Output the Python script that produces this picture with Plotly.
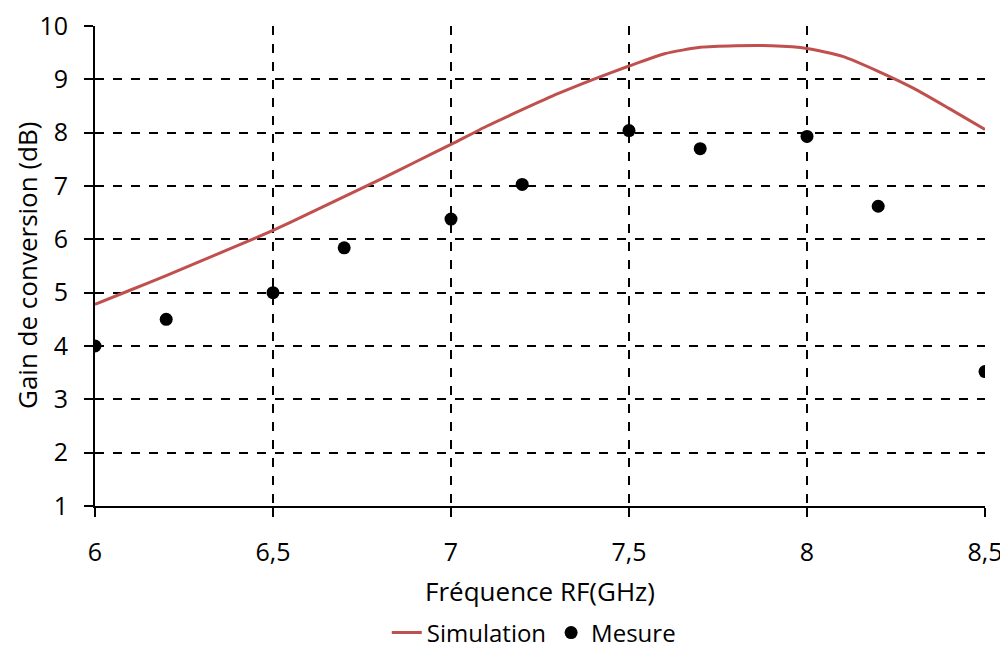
import plotly.graph_objects as go

sim_x = [6.0, 6.1, 6.2, 6.3, 6.4, 6.5, 6.6, 6.7, 6.8, 6.9, 7.0, 7.1, 7.2, 7.3, 7.4,
         7.5, 7.6, 7.7, 7.8, 7.9, 8.0, 8.1, 8.2, 8.3, 8.4, 8.5]
sim_y = [4.78, 5.05, 5.32, 5.60, 5.88, 6.17, 6.48, 6.80, 7.12, 7.45, 7.78, 8.12, 8.43,
         8.73, 9.00, 9.25, 9.48, 9.60, 9.63, 9.63, 9.58, 9.43, 9.15, 8.83, 8.45, 8.06]

mes_x = [6.0, 6.2, 6.5, 6.7, 7.0, 7.2, 7.5, 7.7, 8.0, 8.2, 8.5]
mes_y = [4.0, 4.5, 5.0, 5.84, 6.38, 7.03, 8.04, 7.70, 7.93, 6.62, 3.52]

x_title = "Fréquence RF(GHz)"
y_title = "Gain de conversion (dB)"

FONT = "Open Sans"
TICK_SIZE = 25
TITLE_SIZE = 26
LEGEND_SIZE = 24

fig = go.Figure()
fig.add_trace(go.Scatter(x=sim_x, y=sim_y, mode="lines", name="Simulation",
                         line=dict(color="#C0504D", width=3, shape="spline", smoothing=0.6)))
fig.add_trace(go.Scatter(x=mes_x, y=mes_y, mode="markers", name="Mesure",
                         marker=dict(color="black", size=13)))

axis_common = dict(
    showline=True, linecolor="black", linewidth=2,
    showgrid=True, gridcolor="black", gridwidth=2, griddash="dash",
    ticks="outside", ticklen=9, tickwidth=2, tickcolor="black",
    tickfont=dict(family=FONT, size=TICK_SIZE, color="black"),
    zeroline=False, mirror=False, automargin=False, ticklabeloverflow="allow",
)

fig.update_layout(
    width=1000, height=641,
    margin=dict(l=87, r=23, t=18, b=143),
    paper_bgcolor="white", plot_bgcolor="white",
    separators=", ",
    font=dict(family=FONT, size=TITLE_SIZE, color="black"),
    xaxis=dict(range=[6, 8.5], dtick=0.5, tick0=6, ticklabelstandoff=14,
               title=dict(text=x_title, font=dict(family=FONT, size=TITLE_SIZE), standoff=16),
               **axis_common),
    yaxis=dict(range=[1, 10], dtick=1, tick0=1, ticklabelstandoff=11,
               **axis_common),
    legend=dict(orientation="h", x=0.493, xanchor="center",
                yref="container", y=0.025, yanchor="middle",
                font=dict(family=FONT, size=LEGEND_SIZE), tracegroupgap=0),
    showlegend=True,
    annotations=[dict(text=y_title, xref="paper", yref="paper", x=0, y=0.5,
                      xanchor="center", yanchor="middle", xshift=-68, textangle=-90,
                      showarrow=False, font=dict(family=FONT, size=TITLE_SIZE, color="black"))],
)

fig.write_html("out.html")
